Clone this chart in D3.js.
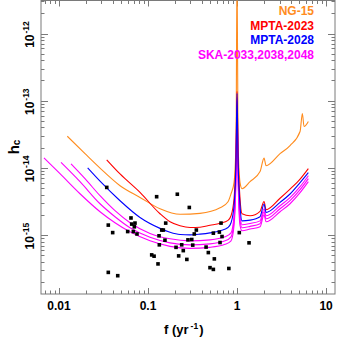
<!DOCTYPE html>
<html><head><meta charset="utf-8">
<script src="https://cdn.jsdelivr.net/npm/d3@7"></script>
<style>
html,body{margin:0;padding:0;background:#fff;}
svg{display:block;font-family:"Liberation Sans",Arial,Helvetica,sans-serif;font-weight:bold;}
</style></head>
<body><svg id="c" width="341" height="349"></svg>
<script>
// ---- data ----
const ng15F = [0.0124,0.0196,0.0289,0.0485,0.0813,0.1364,0.2289,0.3838,0.6442,0.792,0.856,0.925,0.9745,1,1.026,1.081,1.138,1.40,1.813,2.011,2.118,3.042,3.939,5.104,5.416,5.659,6.325];
const ng15H = [2.96e-14,1.63e-14,9.93e-15,5.44e-15,3.64e-15,2.47e-15,2.04e-15,2.11e-15,2.55e-15,3.14e-15,4.13e-15,6.03e-15,2.55e-14,1e-11,2.55e-14,6.03e-15,4.91e-15,6.25e-15,8.81e-15,1.40e-14,1.08e-14,1.63e-14,2.15e-14,3.48e-14,6.46e-14,4.13e-14,4.91e-14];

const mpta23F = [0.03436,0.0485,0.0813,0.1364,0.1767,0.2289,0.2963,0.3838,0.4972,0.6442,0.792,0.856,0.925,0.9745,1,1.026,1.081,1.138,1.40,1.813,2.011,2.118,3.042,3.939,5.104,6.325];
const mpta23H = [1.32e-14,8.13e-15,4.32e-15,2.08e-15,1.58e-15,1.38e-15,1.30e-15,1.31e-15,1.40e-15,1.50e-15,1.66e-15,1.94e-15,3.48e-15,1.81e-14,1.38e-13,1.81e-14,3.48e-15,2.08e-15,1.94e-15,2.26e-15,3.17e-15,2.39e-15,3.54e-15,4.83e-15,6.81e-15,9.77e-15];

const mpta28F = [0.0210,0.0289,0.0485,0.0813,0.1364,0.1767,0.2289,0.2963,0.3838,0.4972,0.6442,0.792,0.856,0.925,0.9745,1,1.026,1.081,1.138,1.40,1.813,2.011,2.118,3.042,3.939,5.104,6.325];
const mpta28H = [1.0e-14,6.35e-15,3.25e-15,1.83e-15,1.26e-15,1.10e-15,1.02e-15,1.01e-15,1.035e-15,1.08e-15,1.16e-15,1.30e-15,1.53e-15,2.74e-15,1.38e-14,1.29e-13,1.38e-14,2.74e-15,1.63e-15,1.67e-15,1.88e-15,2.90e-15,2.17e-15,3.07e-15,4.09e-15,6.03e-15,8.51e-15];

const ska33F = [0.01364,0.0196,0.0289,0.04257,0.06278,0.1053,0.1767,0.2963,0.4972,0.733,0.856,0.925,0.9745,1,1.026,1.081,1.138,1.40,1.813,2.011,2.118,3.042,3.939,5.104,6.325];
const ska33H = [1.15e-14,6.92e-15,3.86e-15,2.31e-15,1.53e-15,1.06e-15,8.81e-16,8.22e-16,8.51e-16,9.44e-16,1.08e-15,1.94e-15,1.08e-14,1.01e-13,1.08e-14,1.94e-15,1.43e-15,1.49e-15,1.63e-15,2.47e-15,1.94e-15,2.74e-15,3.61e-15,5.26e-15,7.67e-15];

const ska38F = [0.01053,0.01722,0.0289,0.04257,0.06278,0.1053,0.1767,0.2963,0.4972,0.733,0.856,0.925,0.9745,1,1.026,1.081,1.138,1.40,1.813,2.011,2.118,3.042,3.939,5.104,6.325];
const ska38H = [1.21e-14,6.25e-15,2.93e-15,1.88e-15,1.29e-15,9.27e-16,7.67e-16,7.16e-16,7.41e-16,8.22e-16,9.44e-16,1.63e-15,9.12e-15,8.81e-14,9.12e-15,1.63e-15,1.29e-15,1.35e-15,1.48e-15,2.23e-15,1.75e-15,2.47e-15,3.25e-15,4.74e-15,6.92e-15];

const ska48F = [0.00678,0.01026,0.01722,0.0289,0.04257,0.06278,0.1053,0.1767,0.2963,0.4972,0.733,0.856,0.925,0.9745,1,1.026,1.081,1.138,1.40,1.813,2.011,2.118,3.042,3.939,5.104,6.325];
const ska48H = [1.41e-14,8.22e-15,4.13e-15,2.23e-15,1.53e-15,1.12e-15,8.22e-16,6.81e-16,6.35e-16,6.58e-16,7.29e-16,8.22e-16,1.38e-15,7.67e-15,7.67e-14,7.67e-15,1.38e-15,1.16e-15,1.23e-15,1.33e-15,2.01e-15,1.58e-15,2.23e-15,2.93e-15,4.28e-15,6.25e-15];

const srcF = [0.0344,0.125,0.0358,0.0401,0.0644,0.0656,0.0714,0.0702,0.0591,0.0684,0.0752,0.158,0.1426,0.1486,0.133,0.134,0.155,0.110,0.117,0.1295,0.0358,0.0457,0.2134,0.291,0.661,0.349,0.331,0.542,0.633,0.678,1.06,0.281,0.310,0.644,1.364,0.239,0.2064,0.318,0.449,0.249,0.476,0.221,0.273,0.556,0.497,0.542,0.809];
const srcH = [5.13e-15,3.73e-15,1.41e-15,1.09e-15,1.80e-15,1.46e-15,1.51e-15,1.33e-15,1.13e-15,1.13e-15,1.04e-15,1.51e-15,1.19e-15,1.19e-15,9.77e-16,7.17e-16,8.41e-16,5.08e-16,4.86e-16,3.73e-16,2.79e-16,2.49e-16,4.06e-15,2.58e-15,1.51e-15,1.19e-15,1.04e-15,1.07e-15,1.11e-15,9.53e-16,1.09e-15,8.5e-16,8.6e-16,7.76e-16,7.68e-16,7.17e-16,6.58e-16,7.10e-16,6.64e-16,5.88e-16,5.50e-16,4.91e-16,4.35e-16,4.43e-16,3.28e-16,3.09e-16,3.19e-16];

const xMajor = [0.01,0.1,1,10];
const xMajorLabels = ["0.01","0.1","1","10"];
const yMajor = [1e-12,1e-13,1e-14,1e-15];
const yMajorExp = ["-12","-13","-14","-15"];

const legendNames = ["NG-15","MPTA-2023","MPTA-2028","SKA-2033,2038,2048"];
const legendColors = ["#ff8c1e","#ff0000","#0000ff","#ff00ff"];

// ---- chart ----
const svg = d3.select("#c");
const L=41, R=335, T=0.5, B=294;
const x = d3.scaleLog().domain([0.00628,12.6]).range([L,R]);
const y = d3.scaleLog().domain([1.33e-16,3.1e-12]).range([B,T]);
const axisCol = "#7a7a7a";

svg.append("defs").append("clipPath").attr("id","clip")
  .append("rect").attr("x",L).attr("y",T).attr("width",R-L).attr("height",B-T);

// frame
svg.append("rect").attr("x",L).attr("y",T).attr("width",R-L).attr("height",B-T)
  .attr("fill","none").attr("stroke",axisCol).attr("stroke-width",1);

// x ticks
const xt = x.ticks().filter(v=>v>=x.domain()[0]&&v<=x.domain()[1]);
xt.forEach(v=>{
  const isMaj = xMajor.some(m=>Math.abs(m-v)/m<1e-6);
  const len = isMaj?6:3.5;
  const px = Math.round(x(v))+0.5;
  svg.append("line").attr("x1",px).attr("x2",px).attr("y1",B).attr("y2",B-len).attr("stroke",axisCol);
  svg.append("line").attr("x1",px).attr("x2",px).attr("y1",T).attr("y2",T+len).attr("stroke",axisCol);
});
xMajor.forEach((v,i)=>{
  svg.append("text").attr("x",x(v)).attr("y",310).attr("text-anchor","middle")
    .attr("font-size",12).attr("fill","#000").text(xMajorLabels[i]);
});
// y ticks
const yt = y.ticks().filter(v=>v>=y.domain()[0]&&v<=y.domain()[1]);
yt.forEach(v=>{
  const isMaj = yMajor.some(m=>Math.abs(m-v)/m<1e-6);
  const len = isMaj?7:3.5;
  const py = Math.round(y(v))+0.5;
  svg.append("line").attr("x1",L).attr("x2",L+len).attr("y1",py).attr("y2",py).attr("stroke",axisCol);
  svg.append("line").attr("x1",R).attr("x2",R-len).attr("y1",py).attr("y2",py).attr("stroke",axisCol);
});
yMajor.forEach((v,i)=>{
  const t = svg.append("text").attr("transform",`translate(33.5,${y(v)+1}) rotate(-90)`)
    .attr("text-anchor","middle").attr("font-size",12).attr("fill","#000");
  t.append("tspan").text("10");
  t.append("tspan").attr("font-size",8.5).attr("dy",-4.5).attr("dx",1).text(yMajorExp[i]);
});

// axis titles
const yl = svg.append("text").attr("transform","translate(18.5,147) rotate(-90)")
  .attr("text-anchor","middle").attr("font-size",15).attr("fill","#000");
yl.append("tspan").text("h");
yl.append("tspan").attr("font-size",10).attr("dy",1).text("c");

const xl = svg.append("text").attr("x",164).attr("y",334).attr("font-size",13).attr("fill","#000");
xl.append("tspan").text("f (yr");
xl.append("tspan").attr("font-size",8.5).attr("dy",-5).attr("dx",2).text("-1");
xl.append("tspan").attr("dy",5).attr("dx",1).text(")");

// curves
const g = svg.append("g").attr("clip-path","url(#clip)");
const line = d3.line().x(d=>x(d[0])).y(d=>y(d[1])).curve(d3.curveMonotoneX);
const curves = [
  [ng15F,ng15H,legendColors[0]],
  [ska48F,ska48H,legendColors[3]],
  [ska38F,ska38H,legendColors[3]],
  [ska33F,ska33H,legendColors[3]],
  [mpta23F,mpta23H,legendColors[1]],
  [mpta28F,mpta28H,legendColors[2]]
];
curves.forEach(([F,H,c])=>{
  g.append("path").datum(F.map((f,i)=>[f,H[i]])).attr("d",line)
    .attr("fill","none").attr("stroke",c).attr("stroke-width",1.1).attr("stroke-linejoin","round");
});

// sources
g.selectAll("rect.src").data(srcF.map((f,i)=>[f,srcH[i]])).enter().append("rect")
  .attr("class","src").attr("x",d=>x(d[0])-1.8).attr("y",d=>y(d[1])-1.8)
  .attr("width",3.6).attr("height",3.6).attr("fill","#000");

// legend
const legBase = [15,29.7,44.3,59];
legendNames.forEach((n,i)=>{
  svg.append("text").attr("x",314).attr("y",legBase[i]).attr("text-anchor","end")
    .attr("font-size",12).attr("fill",legendColors[i]).text(n);
});
</script></body></html>
